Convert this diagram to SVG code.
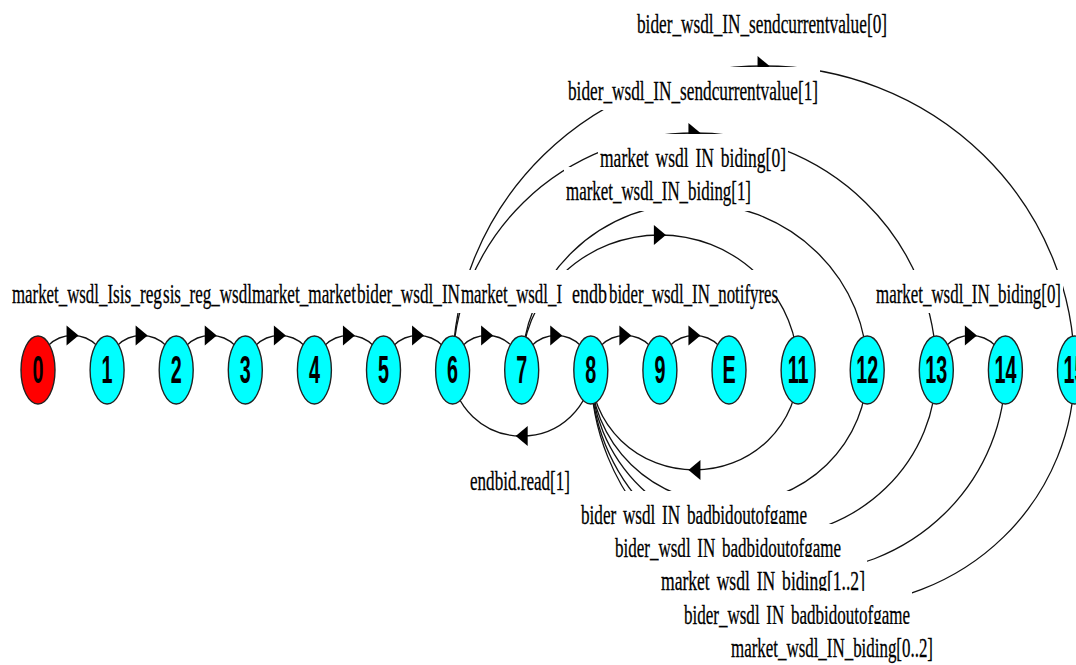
<svg xmlns="http://www.w3.org/2000/svg" width="1076" height="665" viewBox="0 0 1076 665">
<defs>
<style>
.edge{fill:none;stroke:#111;stroke-width:1.3}
.arr{marker-mid:url(#arrow)}
.lbl rect{fill:#fff}
.lbl text{font-family:"Liberation Serif","Times New Roman",serif;font-size:28px;fill:#000;stroke:#000;stroke-width:0.3px}
.sp{word-spacing:4px}
.node ellipse{fill:#00ffff;stroke:#222;stroke-width:1.4}
.node.start ellipse{fill:#ff0000}
.node text{font-family:"Liberation Sans",Arial,sans-serif;font-weight:bold;font-size:38px;text-anchor:middle;fill:#000}
</style>
<marker id="arrow" markerUnits="userSpaceOnUse" viewBox="-10 -12 20 24" markerWidth="20" markerHeight="24" refX="0" refY="0" orient="auto" overflow="visible">
<path d="M-6,-10 L6,0 L-6,10 Z" fill="#000"/>
</marker>
</defs>
<rect width="1076" height="665" fill="#fff"/>

<!-- transitions: half-ellipses between state centres, arrowhead at the apex -->
<g id="connectors">
<path class="edge arr" d="M38,370 A34.55,34.5 0 0 1 72.55,335.5 A34.55,34.5 0 0 1 107.1,370"/>
<path class="edge arr" d="M107.1,370 A34.55,34.5 0 0 1 141.65,335.5 A34.55,34.5 0 0 1 176.2,370"/>
<path class="edge arr" d="M176.2,370 A34.55,34.5 0 0 1 210.75,335.5 A34.55,34.5 0 0 1 245.3,370"/>
<path class="edge arr" d="M245.3,370 A34.55,34.5 0 0 1 279.85,335.5 A34.55,34.5 0 0 1 314.4,370"/>
<path class="edge arr" d="M314.4,370 A34.55,34.5 0 0 1 348.95,335.5 A34.55,34.5 0 0 1 383.5,370"/>
<path class="edge arr" d="M383.5,370 A34.55,34.5 0 0 1 418.05,335.5 A34.55,34.5 0 0 1 452.6,370"/>
<path class="edge arr" d="M452.6,370 A34.55,34.5 0 0 1 487.15,335.5 A34.55,34.5 0 0 1 521.7,370"/>
<path class="edge arr" d="M521.7,370 A34.55,34.5 0 0 1 556.25,335.5 A34.55,34.5 0 0 1 590.8,370"/>
<path class="edge arr" d="M590.8,370 A34.55,34.5 0 0 1 625.35,335.5 A34.55,34.5 0 0 1 659.9,370"/>
<path class="edge arr" d="M659.9,370 A34.55,34.5 0 0 1 694.45,335.5 A34.55,34.5 0 0 1 729,370"/>
<path class="edge arr" d="M936.3,370 A34.55,34.5 0 0 1 970.85,335.5 A34.55,34.5 0 0 1 1005.4,370"/>
<!-- forward arcs over the row -->
<path class="edge arr" d="M452.6,370 A310.95,304 0 0 1 763.55,66 A310.95,304 0 0 1 1074.5,370"/>
<path class="edge arr" d="M452.6,370 A241.85,237 0 0 1 694.45,133 A241.85,237 0 0 1 936.3,370"/>
<path class="edge" d="M521.7,370 A172.75,167 0 0 1 694.45,203 A172.75,167 0 0 1 867.2,370"/>
<path class="edge arr" d="M521.7,370 A138.2,135 0 0 1 659.9,235 A138.2,135 0 0 1 798.1,370"/>
<!-- backward arcs under the row -->
<path class="edge arr" d="M590.8,370 A69.1,66 0 0 1 521.7,436 A69.1,66 0 0 1 452.6,370"/>
<path class="edge arr" d="M798.1,370 A103.65,100 0 0 1 694.45,470 A103.65,100 0 0 1 590.8,370"/>
<path class="edge" d="M867.2,370 A138.2,134 0 0 1 729,504 A138.2,134 0 0 1 590.8,370"/>
<path class="edge" d="M936.3,370 A172.75,167 0 0 1 763.55,537 A172.75,167 0 0 1 590.8,370"/>
<path class="edge" d="M1005.4,370 A207.3,203 0 0 1 798.1,573 A207.3,203 0 0 1 590.8,370"/>
<path class="edge" d="M1074.5,370 A241.85,236 0 0 1 832.65,606 A241.85,236 0 0 1 590.8,370"/>
</g>

<!-- transition labels, each on a white plate -->
<g id="edge-labels" class="lbl">
<g><rect x="635" y="0" width="254" height="43"/><text x="637" y="33" textLength="250" lengthAdjust="spacingAndGlyphs">bider_wsdl_IN_sendcurrentvalue[0]</text></g>
<g><rect x="566" y="67" width="254" height="43"/><text x="568" y="100" textLength="250" lengthAdjust="spacingAndGlyphs">bider_wsdl_IN_sendcurrentvalue[1]</text></g>
<g><rect x="598" y="134" width="190" height="43"/><text class="sp" x="600" y="167" textLength="186" lengthAdjust="spacingAndGlyphs">market wsdl IN biding[0]</text></g>
<g><rect x="564" y="167" width="189" height="44"/><text x="566" y="200" textLength="185" lengthAdjust="spacingAndGlyphs">market_wsdl_IN_biding[1]</text></g>

<g><rect x="11" y="270" width="102" height="43"/><text x="12" y="303" textLength="101" lengthAdjust="spacingAndGlyphs">market_wsdl_I</text></g>
<g><rect x="113" y="270" width="50" height="43"/><text x="113" y="303" textLength="49" lengthAdjust="spacingAndGlyphs">sis_reg</text></g>
<g><rect x="163" y="270" width="89" height="43"/><text x="163" y="303" textLength="89" lengthAdjust="spacingAndGlyphs">sis_reg_wsdl</text></g>
<g><rect x="252" y="270" width="105" height="43"/><text x="252" y="303" textLength="104" lengthAdjust="spacingAndGlyphs">market_market</text></g>
<g><rect x="357" y="270" width="104" height="43"/><text x="357" y="303" textLength="103" lengthAdjust="spacingAndGlyphs">bider_wsdl_IN</text></g>
<g><rect x="461" y="270" width="111" height="43"/><text x="461" y="303" textLength="101" lengthAdjust="spacingAndGlyphs">market_wsdl_I</text></g>
<g><rect x="572" y="270" width="37" height="43"/><text x="572" y="303" textLength="35" lengthAdjust="spacingAndGlyphs">endb</text></g>
<g><rect x="609" y="270" width="168" height="43"/><text x="609" y="303" textLength="169" lengthAdjust="spacingAndGlyphs">bider_wsdl_IN_notifyres</text></g>
<g><rect x="874" y="270" width="189" height="43"/><text x="876" y="303" textLength="185" lengthAdjust="spacingAndGlyphs">market_wsdl_IN_biding[0]</text></g>

<g><rect x="468" y="457" width="104" height="43"/><text x="470" y="490" textLength="100" lengthAdjust="spacingAndGlyphs">endbid.read[1]</text></g>
<g><rect x="579" y="491" width="230" height="43"/><text class="sp" x="581" y="524" textLength="226" lengthAdjust="spacingAndGlyphs">bider wsdl IN badbidoutofgame</text></g>
<g><rect x="613" y="524" width="230" height="43"/><text class="sp" x="615" y="557" textLength="226" lengthAdjust="spacingAndGlyphs">bider_wsdl IN badbidoutofgame</text></g>
<g><rect x="659" y="557" width="208" height="43"/><text class="sp" x="661" y="590" textLength="204" lengthAdjust="spacingAndGlyphs">market wsdl IN biding[1..2]</text></g>
<g><rect x="682" y="591" width="230" height="43"/><text class="sp" x="684" y="624" textLength="226" lengthAdjust="spacingAndGlyphs">bider_wsdl IN badbidoutofgame</text></g>
<g><rect x="729" y="624" width="206" height="43"/><text x="731" y="657" textLength="202" lengthAdjust="spacingAndGlyphs">market_wsdl_IN_biding[0..2]</text></g>
</g>

<!-- states -->
<g id="node-0" class="node start"><ellipse cx="38" cy="370" rx="17" ry="34"/><text transform="translate(38,383) scale(0.52,1)">0</text></g>
<g id="node-1" class="node"><ellipse cx="107.1" cy="370" rx="17" ry="34"/><text transform="translate(107.1,383) scale(0.52,1)">1</text></g>
<g id="node-2" class="node"><ellipse cx="176.2" cy="370" rx="17" ry="34"/><text transform="translate(176.2,383) scale(0.52,1)">2</text></g>
<g id="node-3" class="node"><ellipse cx="245.3" cy="370" rx="17" ry="34"/><text transform="translate(245.3,383) scale(0.52,1)">3</text></g>
<g id="node-4" class="node"><ellipse cx="314.4" cy="370" rx="17" ry="34"/><text transform="translate(314.4,383) scale(0.52,1)">4</text></g>
<g id="node-5" class="node"><ellipse cx="383.5" cy="370" rx="17" ry="34"/><text transform="translate(383.5,383) scale(0.52,1)">5</text></g>
<g id="node-6" class="node"><ellipse cx="452.6" cy="370" rx="17" ry="34"/><text transform="translate(452.6,383) scale(0.52,1)">6</text></g>
<g id="node-7" class="node"><ellipse cx="521.7" cy="370" rx="17" ry="34"/><text transform="translate(521.7,383) scale(0.52,1)">7</text></g>
<g id="node-8" class="node"><ellipse cx="590.8" cy="370" rx="17" ry="34"/><text transform="translate(590.8,383) scale(0.52,1)">8</text></g>
<g id="node-9" class="node"><ellipse cx="659.9" cy="370" rx="17" ry="34"/><text transform="translate(659.9,383) scale(0.52,1)">9</text></g>
<g id="node-E" class="node"><ellipse cx="729" cy="370" rx="17" ry="34"/><text transform="translate(729,383) scale(0.52,1)">E</text></g>
<g id="node-11" class="node"><ellipse cx="798.1" cy="370" rx="17" ry="34"/><text transform="translate(798.1,383) scale(0.52,1)">11</text></g>
<g id="node-12" class="node"><ellipse cx="867.2" cy="370" rx="17" ry="34"/><text transform="translate(867.2,383) scale(0.52,1)">12</text></g>
<g id="node-13" class="node"><ellipse cx="936.3" cy="370" rx="17" ry="34"/><text transform="translate(936.3,383) scale(0.52,1)">13</text></g>
<g id="node-14" class="node"><ellipse cx="1005.4" cy="370" rx="17" ry="34"/><text transform="translate(1005.4,383) scale(0.52,1)">14</text></g>
<g id="node-15" class="node"><ellipse cx="1074.5" cy="370" rx="17" ry="34"/><text transform="translate(1074.5,383) scale(0.52,1)">15</text></g>
</svg>
